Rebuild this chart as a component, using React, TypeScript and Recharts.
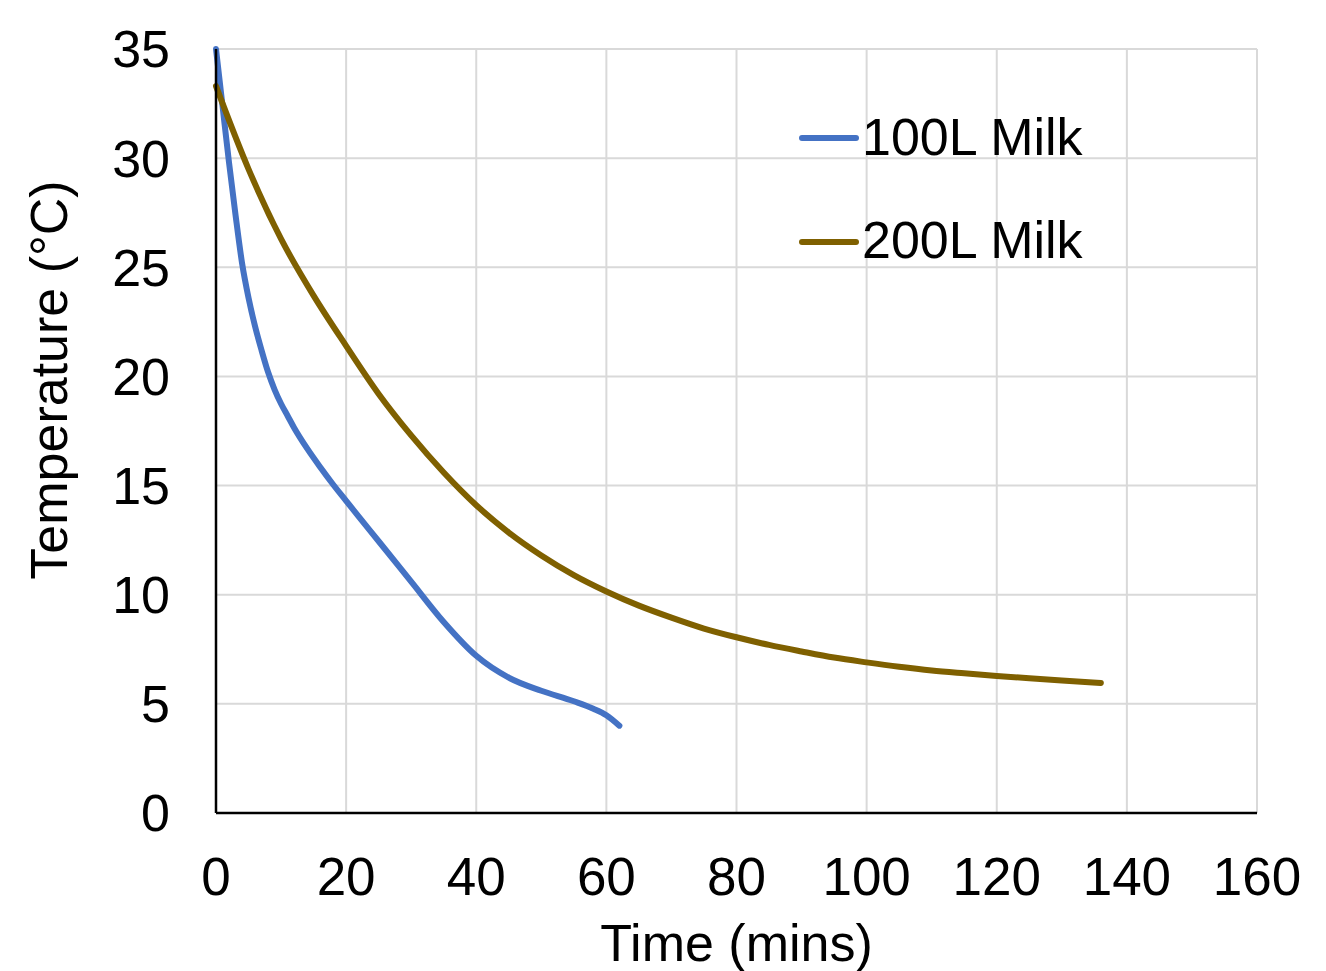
import React from "react";
import { LineChart, Line, XAxis, YAxis, CartesianGrid, Legend } from "recharts";

const FONT = "'Liberation Sans', Arial, sans-serif";
const BLUE = "#4472C4";
const BROWN = "#7F6000";

const xTicks = [0, 20, 40, 60, 80, 100, 120, 140, 160];
const yTicks = [0, 5, 10, 15, 20, 25, 30, 35];

// 100L milk: time (mins) and temperature (°C)
const milk100Time = [0, 1, 2, 3, 4, 5, 6, 7, 8, 9, 10, 11, 12, 14, 16, 18, 20, 22, 25, 30, 35, 40, 45, 50, 55, 58, 60, 62];
const milk100Temp = [35, 32.4, 29.8, 27.4, 25.2, 23.6, 22.3, 21.2, 20.2, 19.4, 18.75, 18.2, 17.65, 16.7, 15.85, 15.05, 14.3, 13.55, 12.45, 10.6, 8.75, 7.2, 6.2, 5.6, 5.12, 4.78, 4.48, 4.0];

// 200L milk
const milk200Time = [0, 5, 10, 15, 20, 25, 30, 35, 40, 45, 50, 55, 60, 65, 70, 75, 80, 85, 90, 95, 100, 105, 110, 115, 120, 125, 130, 136];
const milk200Temp = [33.3, 29.5, 26.3, 23.7, 21.4, 19.2, 17.3, 15.6, 14.1, 12.85, 11.8, 10.9, 10.15, 9.5, 8.95, 8.45, 8.05, 7.7, 7.4, 7.12, 6.9, 6.7, 6.53, 6.4, 6.28, 6.17, 6.07, 5.96];

const milk100 = milk100Time.map((t, i) => ({ time: t, temp: milk100Temp[i] }));
const milk200 = milk200Time.map((t, i) => ({ time: t, temp: milk200Temp[i] }));

function LegendBox({ payload }: { payload?: Array<{ value: string; color: string }> }) {
  const items = payload ?? [];
  return (
    <svg width={330} height={180} style={{ overflow: "visible" }}>
      {items.map((it, i) => (
        <g key={it.value}>
          <line x1={14} x2={68} y1={40 + i * 104} y2={40 + i * 104} stroke={it.color} strokeWidth={6} strokeLinecap="round" />
          <text x={74} y={57 + i * 103} fontSize={52} fontFamily={FONT} fill="#000">
            {it.value}
          </text>
        </g>
      ))}
    </svg>
  );
}

export default function App() {
  return (
    <div style={{ width: 1310, height: 963 }}>
      <LineChart width={1310} height={963} margin={{ top: 41, right: 61, left: 0, bottom: 38 }}>
        <CartesianGrid stroke="#d9d9d9" strokeWidth={2} verticalValues={xTicks} horizontalValues={yTicks} />
        <XAxis
          type="number"
          dataKey="time"
          domain={[0, 160]}
          ticks={xTicks}
          height={120}
          tickSize={0}
          tickMargin={44}
          axisLine={{ stroke: "#000", strokeWidth: 2.5 }}
          tick={{ fontSize: 53, fill: "#000", fontFamily: FONT }}
          label={{
            content: (props: any) => {
              const vb = props.viewBox;
              return (
                <text x={vb.x + vb.width / 2} y={vb.y + 148} textAnchor="middle" fontSize={52} fontFamily={FONT} fill="#000">
                  Time (mins)
                </text>
              );
            },
          }}
        />
        <YAxis
          type="number"
          domain={[0, 35]}
          ticks={yTicks}
          width={208}
          tickSize={0}
          tickMargin={46}
          axisLine={{ stroke: "#000", strokeWidth: 2.5 }}
          tick={{ fontSize: 52, fill: "#000", fontFamily: FONT }}
          label={{
            content: (props: any) => {
              const vb = props.viewBox;
              const cx = vb.x + 59;
              const cy = vb.y + vb.height / 2 - 51;
              return (
                <text x={cx} y={cy} transform={`rotate(-90 ${cx} ${cy})`} textAnchor="middle" fontSize={52} fontFamily={FONT} fill="#000">
                  Temperature (°C)
                </text>
              );
            },
          }}
        />
        <Legend
          layout="horizontal"
          verticalAlign="middle"
          align="center"
          content={(props: any) => <LegendBox payload={props.payload} />}
          wrapperStyle={{ position: "absolute", left: 780, top: 90, width: 330, height: 180 }}
        />
        <Line
          data={milk100}
          dataKey="temp"
          name="100L Milk"
          type="monotone"
          stroke={BLUE}
          strokeWidth={6}
          strokeLinecap="round"
          dot={false}
          activeDot={false}
          isAnimationActive={false}
        />
        <Line
          data={milk200}
          dataKey="temp"
          name="200L Milk"
          type="monotone"
          stroke={BROWN}
          strokeWidth={6}
          strokeLinecap="round"
          dot={false}
          activeDot={false}
          isAnimationActive={false}
        />
      </LineChart>
    </div>
  );
}
